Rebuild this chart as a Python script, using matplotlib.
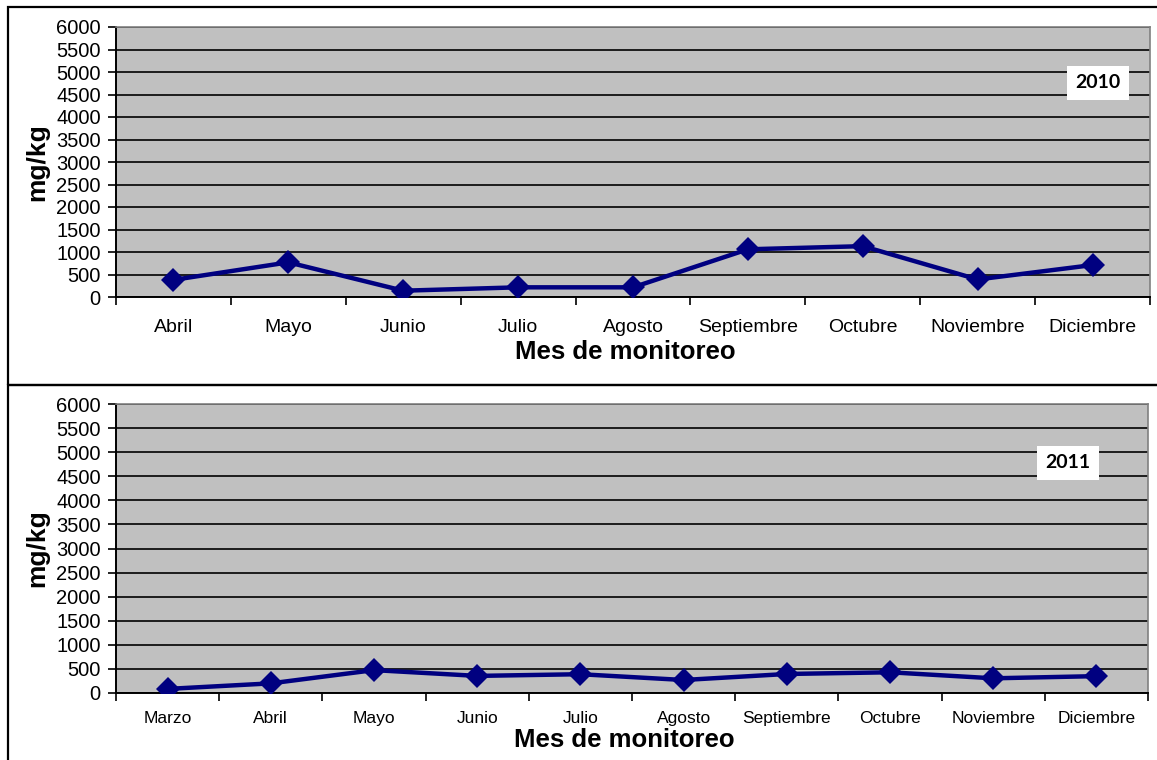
import matplotlib.pyplot as plt
from matplotlib.patches import Rectangle

# Data
meses_2010 = ['Abril', 'Mayo', 'Junio', 'Julio', 'Agosto', 'Septiembre',
              'Octubre', 'Noviembre', 'Diciembre']
valores_2010 = [380, 770, 140, 215, 215, 1060, 1130, 390, 710]

meses_2011 = ['Marzo', 'Abril', 'Mayo', 'Junio', 'Julio', 'Agosto',
              'Septiembre', 'Octubre', 'Noviembre', 'Diciembre']
valores_2011 = [85, 200, 475, 355, 390, 270, 395, 430, 305, 350]

y_ticks = list(range(0, 6001, 500))

plt.rcParams['font.family'] = ['Liberation Sans', 'DejaVu Sans']

W, H = 1157, 760
fig = plt.figure(figsize=(W / 100, H / 100), dpi=100)

# outer frames around each chart
fig.patches.append(Rectangle((8 / W, 1 - 385 / H), 1.1, 378 / H, transform=fig.transFigure,
                             fill=False, edgecolor='black', linewidth=1.6))
fig.patches.append(Rectangle((8 / W, -0.1), 1.1, 0.1 + 1 - 385 / H, transform=fig.transFigure,
                             fill=False, edgecolor='black', linewidth=1.6))


def draw_panel(rect, meses, valores, year, year_pos, tick_size, tick_pad, xlabel_y):
    ax = fig.add_axes(rect)
    ax.set_facecolor('#C0C0C0')
    n = len(meses)
    x = list(range(n))
    ax.set_xlim(-0.5, n - 0.5)
    ax.set_ylim(0, 6000)
    ax.set_yticks(y_ticks)
    ax.yaxis.grid(True, color='black', linewidth=1.2)
    ax.set_axisbelow(True)

    ax.plot(x, valores, color='#000080', linewidth=3.2, marker='D',
            markersize=12, markeredgewidth=0, zorder=3)

    ax.set_xticks(x)
    ax.set_xticklabels(meses, fontsize=tick_size)
    ax.tick_params(axis='x', which='major', length=0, pad=tick_pad)
    ax.set_xticks([i + 0.5 for i in range(-1, n)], minor=True)
    ax.tick_params(axis='x', which='minor', length=6, width=1.2, color='black', direction='out')
    ax.tick_params(axis='y', length=6, width=1.2, pad=5, labelsize=14.5)

    for s in ['top', 'right']:
        ax.spines[s].set_color('#808080')
        ax.spines[s].set_linewidth(1.2)
    for s in ['left', 'bottom']:
        ax.spines[s].set_color('black')
        ax.spines[s].set_linewidth(1.4)

    ax.set_ylabel('mg/kg', fontsize=19, fontweight='bold', labelpad=5)
    ax.set_xlabel('Mes de monitoreo', fontsize=18.5, fontweight='bold')
    ax.xaxis.set_label_coords(0.493, xlabel_y)

    ax.text(year_pos[0], year_pos[1], year, transform=ax.transAxes, ha='center', va='center',
            fontsize=14, fontweight='bold', family=['Lato', 'DejaVu Sans'],
            bbox=dict(boxstyle='square,pad=0.45', facecolor='white', edgecolor='none'))
    return ax


# top chart: 2010
draw_panel([116 / W, 1 - 297 / H, 1034 / W, 270 / H], meses_2010, valores_2010,
           '2010', (0.9497, 0.7926), 14, 16, -0.158)

# bottom chart: 2011
draw_panel([116 / W, 1 - 693 / H, 1032 / W, 289 / H], meses_2011, valores_2011,
           '2011', (0.9225, 0.796), 12.5, 13, -0.122)

fig.savefig('out.png', dpi=100)
